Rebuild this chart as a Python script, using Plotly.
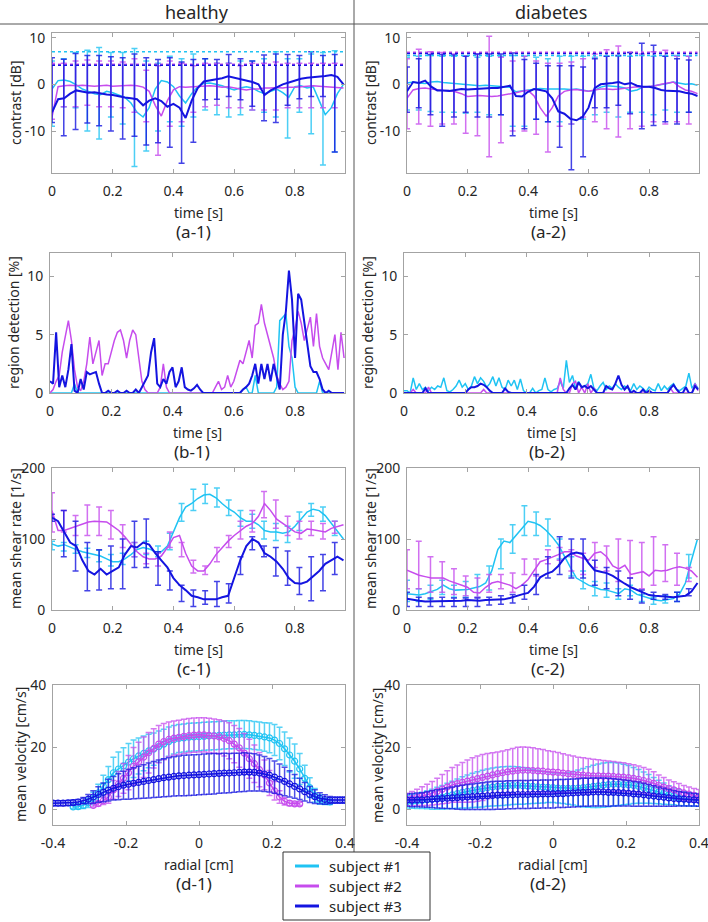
import numpy as np
import plotly.graph_objects as go

W, H = 708, 922
FONT = "Noto Sans"
CYAN = "#1fc3f3"
MAGENTA = "#c64ced"
BLUE = "#1414e0"
SUBJECTS = ["subject #1", "subject #2", "subject #3"]

# sampling grids (s / cm)
t_line = np.round(np.arange(49) * 0.02, 2)
t_det = np.round(np.arange(97) * 0.01, 2)
t_bar = np.round(np.arange(25) * 0.0388, 4)
r_prof = np.linspace(-0.4, 0.4, 59)

# ---- (a) contrast [dB] ----
a1_cyan = [-1, 0.8, 0.9, 0.6, -0.1, -1.0, -1.5, -2.0, -2.2, -1.5,
           -1.8, -2.3, -2.8, -4.0, -6.0, -7.0, -5.0, -1.0, 0.8, 0.5,
           -0.5, -2.5, -4.0, -2.0, -0.5, 0.2, 0.3, 0.0, -0.3, -0.8,
           -1.2, -0.8, -0.5, -0.8, -1.5, -2.0, -1.5, -1.0, -1.8, -2.8,
           -0.5, -0.3, -0.8, -0.5, -3.5, -6.5, -5.0, -2.0, 0.0]
a1_magenta = [-7, -0.5, -0.3, -0.2, -0.3, -0.2, -0.3, -0.4, -0.3, -0.2,
              -0.4, -0.3, -0.2, -0.2, -0.3, -0.6, -1.5, -4.5, -6.8, -3.5,
              -1.2, -0.5, -0.6, -0.5, -0.4, -0.3, -0.3, -0.4, -0.6, -0.5,
              -0.8, -1.0, -1.2, -1.0, -1.0, -0.8, -0.8, -0.7, -0.8, -0.6,
              -0.6, -0.5, -0.4, -0.3, -0.4, -0.5, -0.6, -0.7, -0.8]
a1_blue = [-6, -3.2, -3.0, -2.0, -1.3, -1.5, -1.8, -1.7, -2.0, -2.2,
           -2.3, -2.6, -2.8, -3.0, -3.2, -4.5, -3.5, -3.0, -3.6, -4.8,
           -4.2, -5.0, -7.2, -3.5, -0.8, 0.6, 0.8, 1.0, 1.3, 1.7,
           1.4, 1.2, 0.8, 0.5, 0.0, -2.3, -1.3, -0.6, 0.0, 0.4,
           0.8, 1.2, 1.4, 1.5, 1.6, 1.8, 2.0, 1.6, 0.0]
a1_thr = [7.0, 4.3, 4.1]
a1_cyan_hi = [5.0, 5.5, 6.8, 7.3, 7.9, 6.8, 6.8, 7.7, 5.0, 4.5, 6.0, 5.5, 6.5,
              5.5, 4.5, 4.5, 5.0, 5.0, 5.5, 7.0, 5.5, 5.5, 6.5, 6.8, 7.2]
a1_cyan_lo = [-9.0, -4.8, -5.0, -10.0, -11.7, -7.0, -8.5, -17.6, -14.3, -10.0, -8.0, -9.0, -7.0,
              -5.5, -6.5, -7.0, -6.5, -5.5, -6.0, -7.0, -11.5, -6.0, -10.6, -17.3, -14.5]
a1_magenta_hi = [4.5, 4.5, 5.0, 5.2, 5.0, 5.0, 4.8, 5.5, 3.0, 4.0, 5.0, 4.5, 4.0,
                 4.5, 4.5, 4.5, 4.0, 4.5, 4.5, 4.8, 4.5, 4.5, 4.5, 4.5, 4.5]
a1_magenta_lo = [-7.5, -4.8, -4.8, -4.5, -4.8, -4.8, -5.0, -6.0, -8.0, -15.2, -9.0, -8.0, -6.0,
                 -4.8, -4.5, -5.0, -5.0, -5.5, -5.5, -5.5, -5.0, -5.0, -5.0, -5.0, -5.0]
a1_blue_hi = [5.7, 5.4, 6.6, 6.2, 6.2, 5.9, 5.7, 6.5, 5.7, 5.3, 5.7, 4.8, 5.3,
              5.5, 5.3, 6.4, 5.5, 5.0, 6.3, 6.5, 6.4, 6.2, 7.0, 6.2, 6.4]
a1_blue_lo = [-8.2, -11.0, -9.7, -8.3, -8.9, -10.0, -11.7, -11.1, -13.0, -12.5, -13.5, -16.9, -12.4,
              -3.3, -3.2, -2.6, -3.3, -4.7, -7.8, -8.2, -4.5, -3.1, -2.6, -2.6, -14.5]

a2_cyan = [0.3, 0.5, 0.3, 0.2, 0.5, 0.6, 0.4, 0.3, 0.2, 0.0,
           -0.1, -0.2, -0.3, -0.2, -0.3, -0.3, -0.4, -0.6, -1.6, -1.4,
           -1.2, -1.0, -0.9, -1.0, -1.0, -0.9, -1.0, -1.1, -1.0, -1.2,
           -1.5, -1.3, -0.6, -0.3, -0.4, -0.5, -0.8, -1.5, -1.2, -0.6,
           -0.5, -0.3, 0.0, 0.2, 0.5, 0.2, 0.0, 0.1, -0.2]
a2_magenta = [-3.0, -1.2, -0.9, -0.8, -1.0, -1.2, -1.3, -1.4, -1.6, -2.0,
              -2.6, -2.5, -2.4, -2.5, -2.6, -2.5, -2.3, -2.0, -1.8, -1.5,
              -1.3, -2.5, -5.0, -6.8, -5.0, -2.5, -1.5, -1.2, -1.1, -1.3,
              -1.5, -1.2, -1.0, -1.0, -1.1, -1.0, -0.8, -0.6, -0.5, -0.6,
              -0.5, -0.3, 0.0, 0.3, 0.5, -0.5, -1.2, -1.5, -2.0]
a2_blue = [-1.5, 0.5, 0.3, 0.8, -0.5, -1.3, -1.3, -1.4, -1.2, -1.0,
           -1.1, -1.0, -1.0, -0.9, -0.8, -0.8, -0.5, -0.3, -2.5, -2.6,
           -1.6, -1.0, -1.2, -1.5, -3.0, -5.8, -6.3, -7.4, -7.7, -7.0,
           -5.0, -0.8, 0.0, 0.1, 0.3, 0.5, 0.0, 0.3, -0.3, -0.5,
           -0.5, -0.8, -1.2, -1.4, -1.5, -1.5, -1.8, -2.0, -2.5]
a2_thr = [6.2, 6.9, 6.6]
a2_cyan_hi = [5.8, 6.0, 6.2, 6.0, 6.0, 6.0, 5.8, 6.0, 6.0, 6.2, 6.0, 5.8, 5.5,
              6.0, 6.0, 6.0, 5.8, 6.0, 6.0, 6.0, 6.2, 6.0, 6.0, 6.2, 6.0]
a2_cyan_lo = [-5.5, -5.5, -5.8, -6.0, -6.0, -6.2, -6.0, -6.5, -6.5, -9.0, -9.0, -7.5, -8.0,
              -8.0, -8.5, -7.5, -6.5, -6.0, -7.0, -6.0, -6.0, -6.5, -5.5, -6.0, -6.0]
a2_magenta_hi = [5.5, 7.5, 7.0, 6.8, 6.5, 6.0, 6.5, 10.3, 5.8, 5.0, 6.0, 5.0, 4.5,
                 4.5, 4.8, 5.5, 6.5, 7.4, 8.2, 6.8, 6.5, 7.0, 7.3, 6.0, 6.0]
a2_magenta_lo = [-9.5, -8.5, -9.0, -8.5, -8.5, -10.5, -11.0, -15.5, -12.5, -10.0, -10.0, -10.7, -14.5,
                 -9.0, -8.5, -7.0, -8.0, -9.5, -11.3, -9.5, -9.0, -8.0, -8.5, -8.0, -8.5]
a2_blue_hi = [3.7, 5.5, 6.4, 6.4, 6.3, 6.0, 6.5, 6.5, 6.5, 6.7, 5.3, 4.5, 4.0,
              4.0, 4.0, 3.7, 5.5, 6.0, 6.2, 6.8, 8.8, 8.4, 6.0, 5.5, 5.2]
a2_blue_lo = [-6.0, -5.0, -6.5, -9.0, -7.0, -6.0, -7.0, -7.0, -6.5, -11.0, -9.5, -7.5, -8.0,
              -13.5, -18.3, -15.5, -5.0, -5.0, -4.5, -6.3, -9.5, -8.8, -8.0, -8.5, -6.0]

# ---- (b) region detection [%] ----
b1_cyan = [0, 0, 0, 0, 0, 0, 0, 0, 0.8, 0,
           0, 0, 0, 0, 0, 0, 0, 0, 0, 0,
           0, 0, 0, 0, 0, 0, 0, 0, 0, 0,
           0, 0, 0, 0, 0, 0, 0, 0, 0, 0,
           0, 0, 0, 0, 0, 0, 0, 0, 0, 0,
           0, 0, 0, 0, 0, 0, 0, 0, 0, 0,
           0, 0, 0, 0.3, 0.5, 0, 0, 1.5, 0, 0,
           0, 0, 0, 0, 0.5, 6.2, 6.5, 6.8, 4.0, 3.0,
           0.5, 0, 0, 0, 0, 0, 0, 0, 1.0, 0,
           0, 0, 0, 0, 0, 0, 0]
b1_magenta = [0, 0.3, 1.0, 1.5, 3.5, 5.0, 6.2, 4.5, 2.0, 0.5,
              0.2, 1.0, 2.5, 4.8, 2.5, 3.5, 4.5, 1.5, 2.5, 2.5,
              3.5, 4.5, 5.2, 5.4, 4.5, 3.0, 4.5, 5.4, 5.0, 3.0,
              1.0, 0.3, 0, 0, 0, 0, 0.5, 2.5, 0.5, 0,
              0, 0, 0, 0, 0, 0, 0, 0, 0, 0,
              0, 0, 0, 0, 0.5, 1.0, 0.3, 0.5, 1.5, 0.5,
              1.0, 2.0, 2.8, 2.5, 3.5, 4.5, 3.0, 5.8, 6.0, 7.6,
              6.0, 5.0, 4.0, 3.0, 1.5, 0.8, 0.3, 0.5, 1.0, 4.5,
              5.5, 7.0, 6.0, 4.5, 5.5, 6.5, 4.0, 6.8, 4.0, 3.0,
              2.5, 2.0, 3.5, 5.0, 2.0, 5.2, 3.0]
b1_blue = [1.0, 0.8, 5.2, 0.5, 1.5, 0.5, 2.0, 4.2, 0.2, 0,
           1.2, 0.3, 1.8, 1.6, 1.7, 1.8, 0.8, 0, 0, 0.2,
           0, 0, 0.2, 0, 0, 0.2, 0, 0, 0.3, 0,
           0.5, 1.0, 1.5, 3.5, 4.7, 0.8, 0.5, 1.2, 0.8, 1.8,
           2.2, 0.5, 1.0, 2.2, 0.5, 0.3, 0.2, 0.4, 0.7, 0.3,
           0, 0, 0, 0, 0, 0, 0, 0, 0, 0,
           0, 0, 0, 0.3, 0.5, 0.8, 1.5, 2.5, 0.8, 2.5,
           1.2, 2.5, 1.0, 2.5, 1.5, 0.3, 5.0, 7.0, 10.5, 8.0,
           3.0, 8.5, 8.0, 6.0, 4.0, 2.3, 1.8, 1.8, 1.2, 0.3,
           0, 0.2, 0, 0, 0, 0, 0]

b2_cyan = [0.2, 0.2, 0.0, 1.3, 0.3, 0.8, 0.3, 0.5, 0.2, 0.5,
           0.3, 0.6, 0.5, 1.3, 0.2, 0.1, 0.3, 0.6, 1.1, 0.5,
           0.8, 0.3, 0.6, 1.4, 0.8, 1.3, 1.0, 0.5, 0.8, 1.4,
           0.6, 1.3, 0.5, 0.3, 1.1, 0.6, 1.1, 0.3, 1.2, 0.2,
           0.0, 0.0, 0.4, 0.0, 0.2, 0.3, 1.3, 0.3, 0.1, 0.3,
           0.4, 1.0, 0.4, 2.8, 0.9, 1.5, 0.4, 1.0, 0.5, 0.6,
           0.8, 1.6, 0.4, 0.2, 0.6, 0.9, 0.3, 0.6, 0.4, 0.8,
           0.5, 0.3, 0.6, 0.4, 0.2, 0.8, 0.3, 0.6, 0.4, 0.1,
           0.5, 0.3, 0.2, 0.8, 0.2, 0.6, 0.3, 0.6, 0.8, 0.3,
           0.2, 0.4, 0.6, 1.7, 0.4, 0.8, 0.4]
b2_magenta = [0, 0, 0, 0.3, 0, 0, 0, 0, 0.5, 0,
              0, 0, 0, 0, 0, 0, 0, 0, 0, 0,
              0, 0, 0, 0, 0, 0, 0.3, 0, 0, 0,
              0, 0, 0, 0, 0, 0, 0, 0, 0, 0,
              0, 0, 0, 0, 0, 0, 0, 0, 0, 0,
              0, 1.3, 0.3, 0, 0, 0.8, 1.0, 0, 0.5, 0,
              0.8, 0, 0.4, 0, 0, 0, 0, 0, 0, 0,
              0, 0, 0, 0, 0, 0, 0, 0, 0, 0,
              0, 0, 0, 0, 0, 0, 0, 0.4, 0, 0,
              0, 0, 0, 0, 0, 0.8, 0.2]
b2_blue = [0, 0, 0, 0, 0, 0, 0, 0.4, 0, 0,
           0, 0, 0, 0, 0, 0, 0, 0, 0, 0,
           0, 0.3, 0.5, 0.5, 0.6, 0.8, 0.7, 0.5, 0.2, 0,
           0, 0, 0, 0.4, 0.1, 0, 0, 0, 0, 0,
           0, 0, 0, 0, 0, 0, 0, 0, 0, 0,
           0, 0, 0, 0, 0.4, 0.7, 0.3, 0.9, 0.5, 0.6,
           0.4, 0.6, 0.3, 0, 0, 0, 0.6, 0.4, 0.3, 0.8,
           1.5, 0.7, 0.3, 0.6, 0, 0.2, 0, 0, 0.3, 0,
           0.2, 0, 0, 0, 0, 0, 0, 0.4, 0.7, 0.3,
           0, 0, 0.5, 0, 0, 0.6, 0.3]

# ---- (c) mean shear rate [1/s] ----
c1_cyan = [93, 90, 92, 88, 85, 82, 80, 78, 76, 72,
           68, 68, 72, 78, 85, 88, 86, 82, 82, 90,
           110, 130, 145, 150, 157, 162, 163, 158, 150, 143,
           138, 130, 125, 125, 120, 112, 110, 110, 108, 110,
           118, 128, 138, 142, 140, 133, 122, 110, 100]
c1_magenta = [140, 112, 112, 115, 118, 122, 124, 125, 125, 124,
              118, 112, 103, 92, 82, 75, 72, 72, 76, 88,
              102, 105, 80, 62, 55, 55, 65, 78, 88, 97,
              105, 112, 118, 122, 132, 150, 140, 128, 122, 115,
              110, 108, 114, 113, 112, 110, 115, 117, 120]
c1_blue = [130, 125, 110, 95, 90, 70, 55, 50, 58, 50,
           55, 60, 78, 90, 88, 95, 92, 80, 70, 60,
           45, 35, 28, 20, 18, 15, 15, 15, 18, 20,
           45, 70, 90, 100, 95, 80, 75, 68, 58, 45,
           38, 37, 40, 48, 55, 65, 70, 75, 70]
c1_cyan_hi = [97, 95, 92, 87, 84, 78, 80, 95, 97, 90, 108, 150, 170,
              177, 172, 155, 140, 135, 125, 122, 118, 138, 150, 145, 125]
c1_cyan_lo = [85, 83, 80, 74, 68, 62, 64, 75, 78, 75, 85, 125, 140,
              150, 145, 133, 118, 115, 100, 98, 95, 112, 132, 125, 105]
c1_magenta_hi = [165, 140, 133, 148, 145, 140, 120, 95, 80, 80, 110, 95, 70,
                 62, 88, 105, 125, 140, 167, 155, 132, 125, 125, 122, 125]
c1_magenta_lo = [110, 110, 105, 105, 105, 100, 88, 75, 65, 62, 88, 75, 52,
                 50, 68, 88, 100, 110, 130, 115, 105, 100, 105, 100, 108]
c1_blue_hi = [135, 140, 125, 95, 85, 90, 100, 125, 128, 82, 55, 35, 28,
              27, 40, 37, 75, 103, 90, 88, 83, 60, 75, 78, 95]
c1_blue_lo = [125, 75, 55, 27, 28, 30, 30, 60, 60, 35, 28, 12, 5,
              8, 5, 10, 50, 85, 75, 48, 35, 22, 13, 27, 50]

c2_cyan = [23, 22, 21, 23, 26, 29, 35, 30, 28, 28,
           29, 31, 33, 38, 55, 85, 97, 95, 105, 115,
           125, 123, 119, 112, 103, 92, 75, 60, 45, 40,
           35, 32, 29, 28, 25, 23, 30, 28, 22, 19,
           16, 14, 13, 15, 16, 22, 38, 70, 100]
c2_magenta = [56, 52, 49, 47, 45, 45, 45, 41, 38, 36,
              32, 25, 24, 32, 38, 40, 38, 35, 30, 35,
              43, 55, 68, 71, 74, 78, 82, 82, 76, 73,
              70, 80, 82, 75, 62, 58, 63, 50, 52, 54,
              48, 56, 55, 56, 59, 61, 59, 55, 46]
c2_blue = [16, 14, 13, 12, 12, 13, 13, 12, 13, 13,
           14, 13, 13, 14, 14, 14, 15, 17, 20, 22,
           24, 33, 46, 51, 54, 62, 73, 79, 81, 79,
           66, 56, 54, 52, 48, 42, 37, 32, 28, 24,
           21, 20, 19, 18, 18, 19, 20, 26, 38]
c2_cyan_hi = [42, 30, 35, 42, 35, 40, 50, 62, 100, 120, 147, 138, 128,
              100, 75, 55, 40, 38, 30, 35, 22, 18, 20, 25, 78]
c2_cyan_lo = [12, 12, 15, 22, 18, 18, 18, 28, 58, 80, 105, 105, 90,
              72, 48, 30, 20, 18, 15, 20, 12, 8, 10, 12, 45]
c2_magenta_hi = [85, 97, 75, 68, 58, 48, 45, 50, 50, 52, 72, 72, 85,
                 88, 85, 80, 95, 90, 100, 98, 95, 103, 92, 80, 60]
c2_magenta_lo = [30, 30, 25, 25, 22, 20, 18, 25, 30, 25, 50, 48, 65,
                 70, 55, 50, 60, 55, 40, 45, 30, 35, 40, 35, 40]
c2_blue_hi = [25, 18, 17, 18, 17, 17, 17, 18, 20, 22, 35, 50, 75,
              103, 100, 100, 70, 60, 55, 45, 28, 25, 22, 25, 30]
c2_blue_lo = [5, 5, 5, 5, 5, 5, 5, 7, 8, 10, 15, 22, 45,
              50, 45, 45, 35, 30, 20, 15, 10, 15, 15, 12, 20]

# ---- (d) mean velocity [cm/s] vs radial position ----
N = None
d1_cyan = [N, N, N, N, 0.8, 0.9, 1.3, 2.1, 3.5, 5.3,
           7.5, 9.6, 11.8, 13.0, 14.0, 15.2, 16.3, 17.2, 18.0, 18.8,
           19.4, 20.2, 21.0, 21.8, 22.4, 22.8, 23.0, 23.2, 23.3, 23.4,
           23.5, 23.6, 23.7, 23.8, 23.9, 24.0, 24.0, 24.1, 24.1, 24.0,
           23.8, 23.6, 23.3, 23.0, 22.3, 21.2, 19.5, 17.5, 15.5, 13.0,
           10.0, 7.0, 4.5, 3.2, 2.6, 2.4, N, N, N]
d1_cyan_sd = [N, N, N, N, 0.5, 0.7, 1.0, 1.5, 2.0, 2.8,
              3.5, 4.2, 5.0, 5.5, 5.8, 6.0, 6.0, 5.8, 5.6, 5.4,
              5.2, 5.0, 4.8, 4.7, 4.6, 4.5, 4.5, 4.5, 4.5, 4.5,
              4.5, 4.5, 4.5, 4.5, 4.5, 4.5, 4.5, 4.5, 4.5, 4.5,
              4.5, 4.5, 4.6, 4.8, 5.0, 5.2, 5.4, 5.5, 5.5, 5.0,
              4.2, 3.2, 2.2, 1.5, 1.0, 0.8, N, N, N]
d1_magenta = [N, N, N, N, N, N, N, N, 1.3, 1.9,
              2.8, 4.0, 6.3, 8.2, 10.0, 11.8, 13.9, 15.3, 16.8, 18.2,
              19.6, 21.0, 21.8, 22.5, 22.9, 23.2, 23.5, 23.7, 23.9, 24.0,
              24.0, 23.8, 23.6, 23.3, 22.8, 22.1, 21.0, 19.8, 18.1, 16.3,
              14.7, 12.8, 11.1, 8.5, 6.0, 4.0, 2.6, 2.0, 1.8, 1.8,
              N, N, N, N, N, N, N, N, N]
d1_magenta_sd = [N, N, N, N, N, N, N, N, 0.5, 0.8,
                 1.2, 2.0, 3.0, 4.0, 4.8, 5.5, 6.0, 6.3, 6.5, 6.5,
                 6.3, 6.0, 5.8, 5.6, 5.5, 5.5, 5.5, 5.5, 5.5, 5.5,
                 5.5, 5.5, 5.5, 5.5, 5.6, 5.8, 6.0, 6.2, 6.3, 6.3,
                 6.0, 5.5, 4.8, 4.0, 3.0, 2.0, 1.2, 0.8, 0.5, 0.5,
                 N, N, N, N, N, N, N, N, N]
d1_blue = [2.0, 2.0, 2.0, 2.1, 2.2, 2.4, 2.8, 3.3, 4.0, 4.8,
           5.5, 6.2, 6.8, 7.3, 7.8, 8.1, 8.4, 8.7, 9.0, 9.3,
           9.6, 9.9, 10.2, 10.4, 10.6, 10.8, 10.9, 11.0, 11.1, 11.2,
           11.3, 11.4, 11.5, 11.6, 11.7, 11.7, 11.8, 11.9, 12.0, 12.0,
           11.9, 11.7, 11.4, 11.0, 10.4, 9.7, 9.0, 8.2, 7.4, 6.6,
           5.7, 4.8, 4.1, 3.6, 3.2, 3.0, 3.0, 3.0, 3.0]
d1_blue_sd = [0.8, 0.8, 0.8, 0.8, 0.8, 0.8, 1.0, 1.5, 2.0, 2.5,
              3.0, 3.5, 3.8, 4.2, 4.5, 4.8, 5.0, 5.2, 5.4, 5.6,
              5.8, 6.0, 6.1, 6.2, 6.3, 6.4, 6.5, 6.5, 6.5, 6.5,
              6.5, 6.5, 6.5, 6.4, 6.4, 6.3, 6.3, 6.2, 6.2, 6.1,
              6.0, 5.8, 5.6, 5.4, 5.2, 4.9, 4.6, 4.2, 3.8, 3.4,
              3.0, 2.6, 2.2, 1.8, 1.5, 1.2, 1.0, 1.0, 1.0]

d2_cyan = [2.5, 2.6, 2.7, 2.9, 3.1, 3.3, 3.6, 3.9, 4.3, 4.7,
           5.1, 5.5, 5.8, 6.1, 6.4, 6.7, 7.0, 7.2, 7.4, 7.5,
           7.6, 7.7, 7.7, 7.6, 7.5, 7.4, 7.3, 7.2, 7.1, 7.0,
           6.9, 6.8, 6.8, 6.8, 6.9, 7.0, 7.2, 7.4, 7.6, 7.8,
           8.0, 8.1, 8.1, 8.0, 7.9, 7.7, 7.4, 7.0, 6.6, 6.1,
           5.6, 5.1, 4.6, 4.2, 3.8, 3.5, 3.3, 3.1, 3.0]
d2_cyan_sd = [2.0, 2.2, 2.4, 2.6, 2.9, 3.2, 3.5, 3.8, 4.1, 4.4,
              4.7, 5.0, 5.3, 5.5, 5.7, 5.9, 6.0, 6.1, 6.2, 6.2,
              6.2, 6.1, 6.0, 5.9, 5.7, 5.5, 5.3, 5.1, 4.9, 4.8,
              4.8, 4.9, 5.1, 5.4, 5.8, 6.2, 6.5, 6.8, 7.0, 7.1,
              7.1, 7.0, 6.8, 6.5, 6.2, 5.8, 5.4, 5.0, 4.6, 4.2,
              3.8, 3.4, 3.0, 2.7, 2.5, 2.3, 2.2, 2.1, 2.0]
d2_magenta = [3.2, 3.5, 3.9, 4.3, 4.7, 5.2, 5.8, 6.5, 7.2, 7.9,
              8.3, 8.7, 9.1, 9.5, 9.9, 10.3, 10.7, 11.1, 11.5, 11.8,
              12.1, 12.3, 12.5, 12.6, 12.6, 12.5, 12.4, 12.3, 12.1, 12.0,
              11.9, 11.7, 11.5, 11.3, 11.1, 11.0, 10.9, 10.8, 10.8, 10.7,
              10.7, 10.6, 10.5, 10.4, 10.2, 10.0, 9.7, 9.3, 8.9, 8.4,
              7.7, 7.2, 6.7, 6.3, 5.8, 5.3, 4.9, 4.5, 4.3]
d2_magenta_sd = [2.0, 2.3, 2.6, 3.0, 3.4, 3.8, 4.2, 4.7, 5.2, 5.6,
                 6.0, 6.4, 6.8, 7.1, 7.3, 7.4, 7.3, 7.1, 7.0, 7.0,
                 7.1, 7.3, 7.5, 7.5, 7.4, 7.3, 7.1, 7.0, 6.8, 6.6,
                 6.4, 6.2, 6.0, 5.9, 5.7, 5.6, 5.5, 5.3, 5.2, 5.0,
                 4.9, 4.8, 4.7, 4.6, 4.5, 4.4, 4.3, 4.2, 4.0, 3.7,
                 3.4, 3.1, 2.8, 2.6, 2.5, 2.4, 2.3, 2.2, 2.1]
d2_blue = [3.0, 3.0, 3.1, 3.1, 3.2, 3.3, 3.4, 3.5, 3.6, 3.7,
           3.8, 3.9, 4.0, 4.1, 4.2, 4.3, 4.4, 4.5, 4.6, 4.6,
           4.7, 4.7, 4.8, 4.8, 4.8, 4.9, 4.9, 5.0, 5.0, 5.0,
           5.1, 5.1, 5.2, 5.3, 5.4, 5.5, 5.5, 5.6, 5.6, 5.6,
           5.5, 5.5, 5.4, 5.3, 5.2, 5.0, 4.9, 4.7, 4.5, 4.3,
           4.1, 3.9, 3.7, 3.5, 3.4, 3.3, 3.2, 3.1, 3.0]
d2_blue_sd = [2.0, 2.1, 2.2, 2.3, 2.5, 2.7, 2.9, 3.1, 3.3, 3.5,
              3.7, 3.9, 4.0, 4.1, 4.2, 4.3, 4.4, 4.5, 4.5, 4.5,
              4.5, 4.5, 4.5, 4.5, 4.5, 4.5, 4.5, 4.5, 4.5, 4.5,
              4.5, 4.5, 4.5, 4.5, 4.5, 4.5, 4.5, 4.5, 4.5, 4.5,
              4.5, 4.4, 4.3, 4.2, 4.1, 4.0, 3.9, 3.7, 3.5, 3.3,
              3.1, 2.9, 2.7, 2.5, 2.3, 2.2, 2.1, 2.0, 2.0]


def rgba(hex_color, a):
    h = hex_color.lstrip("#")
    return "rgba(%d,%d,%d,%.2f)" % (int(h[0:2], 16), int(h[2:4], 16), int(h[4:6], 16), a)


def axid(n):
    return ("x", "y") if n == 1 else (f"x{n}", f"y{n}")


fig = go.Figure()


def add_line(n, x, y, color, width=1.5, dash=None):
    xa, ya = axid(n)
    fig.add_trace(go.Scatter(
        x=x, y=y, mode="lines", xaxis=xa, yaxis=ya,
        line=dict(color=color, width=width, dash=dash),
        showlegend=False, hoverinfo="skip",
    ))


def add_bars(n, x, hi, lo, color, alpha=0.8):
    xa, ya = axid(n)
    hi, lo = np.array(hi, float), np.array(lo, float)
    fig.add_trace(go.Scatter(
        x=x, y=(hi + lo) / 2, mode="markers", xaxis=xa, yaxis=ya,
        marker=dict(size=1, color="rgba(0,0,0,0)"),
        error_y=dict(type="data", array=(hi - lo) / 2, color=rgba(color, alpha),
                     thickness=1.5, width=3),
        showlegend=False, hoverinfo="skip",
    ))


def add_profile(n, x, y, sd, color, alpha=0.75):
    xa, ya = axid(n)
    fig.add_trace(go.Scatter(
        x=x, y=y, mode="lines+markers", xaxis=xa, yaxis=ya,
        line=dict(color=color, width=1.5),
        marker=dict(symbol="circle-open", size=6, color=color, line=dict(width=1.2)),
        error_y=dict(type="data", array=sd, color=rgba(color, alpha), thickness=1.5, width=3),
        showlegend=False, hoverinfo="skip",
    ))


colors = [CYAN, MAGENTA, BLUE]

# (a) contrast
for n, lines, his, los, thr in [
    (1, [a1_cyan, a1_magenta, a1_blue], [a1_cyan_hi, a1_magenta_hi, a1_blue_hi],
     [a1_cyan_lo, a1_magenta_lo, a1_blue_lo], a1_thr),
    (2, [a2_cyan, a2_magenta, a2_blue], [a2_cyan_hi, a2_magenta_hi, a2_blue_hi],
     [a2_cyan_lo, a2_magenta_lo, a2_blue_lo], a2_thr),
]:
    for k in range(3):
        add_line(n, t_line, lines[k], colors[k], width=2 if k == 2 else 1.5)
        add_bars(n, t_bar, his[k], los[k], colors[k])
    for k in range(3):
        add_line(n, [t_line[0], t_line[-1]], [thr[k], thr[k]], colors[k], width=1.5, dash="dot")

# (b) region detection
for n, lines in [(3, [b1_cyan, b1_magenta, b1_blue]), (4, [b2_cyan, b2_magenta, b2_blue])]:
    for k in range(3):
        add_line(n, t_det, lines[k], colors[k], width=2 if k == 2 else 1.5)

# (c) shear rate
for n, lines, his, los in [
    (5, [c1_cyan, c1_magenta, c1_blue], [c1_cyan_hi, c1_magenta_hi, c1_blue_hi],
     [c1_cyan_lo, c1_magenta_lo, c1_blue_lo]),
    (6, [c2_cyan, c2_magenta, c2_blue], [c2_cyan_hi, c2_magenta_hi, c2_blue_hi],
     [c2_cyan_lo, c2_magenta_lo, c2_blue_lo]),
]:
    for k in range(3):
        add_line(n, t_line, lines[k], colors[k], width=2 if k == 2 else 1.5)
        add_bars(n, t_bar, his[k], los[k], colors[k])

# (d) velocity profiles
for n, ys, sds in [
    (7, [d1_cyan, d1_magenta, d1_blue], [d1_cyan_sd, d1_magenta_sd, d1_blue_sd]),
    (8, [d2_cyan, d2_magenta, d2_blue], [d2_cyan_sd, d2_magenta_sd, d2_blue_sd]),
]:
    for k in range(3):
        add_profile(n, r_prof, ys[k], sds[k], colors[k])

# panel geometry in pixels
t_ticks = ([0, 0.2, 0.4, 0.6, 0.8], ["0", "0.2", "0.4", "0.6", "0.8"])
r_ticks = ([-0.4, -0.2, 0, 0.2, 0.4], ["-0.4", "-0.2", "0", "0.2", "0.4"])
panels = [
    (1, (52, 345), (33, 173), [0, 0.965], [-19, 11], ([-10, 0, 10], ["-10", "0", "10"]),
     "contrast [dB]", "time [s]", "(a-1)", t_ticks),
    (2, (407, 699), (33, 173), [0, 0.965], [-19, 11], ([-10, 0, 10], ["-10", "0", "10"]),
     "contrast [dB]", "time [s]", "(a-2)", t_ticks),
    (3, (50, 345), (253, 393), [0, 0.963], [0, 12], ([0, 5, 10], ["0", "5", "10"]),
     "region detection [%]", "time [s]", "(b-1)", t_ticks),
    (4, (404, 699), (253, 393), [0, 0.963], [0, 12], ([0, 5, 10], ["0", "5", "10"]),
     "region detection [%]", "time [s]", "(b-2)", t_ticks),
    (5, (52, 345), (468, 610), [0, 0.965], [0, 200], ([0, 100, 200], ["0", "100", "200"]),
     "mean shear rate [1/s]", "time [s]", "(c-1)", t_ticks),
    (6, (407, 699), (468, 610), [0, 0.965], [0, 200], ([0, 100, 200], ["0", "100", "200"]),
     "mean shear rate [1/s]", "time [s]", "(c-2)", t_ticks),
    (7, (53, 345), (685, 825), [-0.4, 0.4], [-5, 40], ([0, 20, 40], ["0", "20", "40"]),
     "mean velocity [cm/s]", "radial [cm]", "(d-1)", r_ticks),
    (8, (407, 699), (685, 825), [-0.4, 0.4], [-5, 40], ([0, 20, 40], ["0", "20", "40"]),
     "mean velocity [cm/s]", "radial [cm]", "(d-2)", r_ticks),
]

AX_COLOR = "#a3a3a3"
TXT = "#262626"
axis_style = dict(showline=True, linecolor=AX_COLOR, linewidth=1, mirror="ticks",
                  ticks="inside", ticklen=4, tickcolor=AX_COLOR, showgrid=False,
                  zeroline=False, automargin=False, ticklabeloverflow="allow",
                  tickfont=dict(family=FONT, size=14, color=TXT))

layout_axes = {}
annotations = []


def px_x(x):
    return x / W


def px_y(y):
    return 1 - y / H


for n, (x0, x1), (y0, y1), xr, yr, yt, ylab, xlab, tag, xt in panels:
    suffix = "" if n == 1 else str(n)
    xa, ya = axid(n)
    layout_axes["xaxis" + suffix] = dict(
        axis_style, domain=[px_x(x0), px_x(x1)], anchor=ya, range=xr,
        tickvals=xt[0], ticktext=xt[1], ticklabelstandoff=5)
    layout_axes["yaxis" + suffix] = dict(
        axis_style, domain=[px_y(y1), px_y(y0)], anchor=xa, range=yr,
        tickvals=yt[0], ticktext=yt[1], ticklabelstandoff=3)
    cx = (x0 + x1) / 2
    ylab_x = x0 - 37 if n != 7 else x0 - 33
    if n == 8:
        ylab_x = x0 - 30
    annotations.append(dict(text=ylab, x=px_x(ylab_x), y=px_y((y0 + y1) / 2), textangle=-90,
                            font=dict(family=FONT, size=14, color=TXT)))
    annotations.append(dict(text=xlab, x=px_x(cx), y=px_y(y1 + 39),
                            font=dict(family=FONT, size=14, color=TXT)))
    annotations.append(dict(text=tag, x=px_x(cx - 5), y=px_y(y1 + 58),
                            font=dict(family=FONT, size=17, color=TXT)))

annotations.append(dict(text="healthy", x=px_x(197), y=px_y(12),
                        font=dict(family=FONT, size=18, color=TXT)))
annotations.append(dict(text="diabetes", x=px_x(551), y=px_y(12),
                        font=dict(family=FONT, size=18, color=TXT)))

for a in annotations:
    a.update(xref="paper", yref="paper", xanchor="center", yanchor="middle", showarrow=False)

shapes = [
    dict(type="line", xref="paper", yref="paper", x0=0, x1=1, y0=px_y(24), y1=px_y(24),
         line=dict(color="#555555", width=1)),
    dict(type="line", xref="paper", yref="paper", x0=px_x(354), x1=px_x(354), y0=1, y1=px_y(852),
         line=dict(color="#555555", width=1)),
]

# legend box (drawn as a key under the two velocity panels)
LEG_BOX = (283, 852, 430, 920)
LEG_ROWS = [866, 886, 906]
shapes.append(dict(type="rect", xref="paper", yref="paper",
                   x0=px_x(LEG_BOX[0]), x1=px_x(LEG_BOX[2]),
                   y0=px_y(LEG_BOX[3]), y1=px_y(LEG_BOX[1]),
                   line=dict(color="#333333", width=1), fillcolor="white", layer="above"))
for k, yy in enumerate(LEG_ROWS):
    shapes.append(dict(type="line", xref="paper", yref="paper",
                       x0=px_x(295), x1=px_x(319), y0=px_y(yy), y1=px_y(yy),
                       line=dict(color=colors[k], width=3), layer="above"))
    annotations.append(dict(text=SUBJECTS[k], x=px_x(327), y=px_y(yy), xref="paper", yref="paper",
                            xanchor="left", yanchor="middle", showarrow=False,
                            font=dict(family=FONT, size=15, color=TXT)))

fig.update_layout(
    width=W, height=H,
    margin=dict(l=0, r=0, t=0, b=0, autoexpand=False),
    paper_bgcolor="white", plot_bgcolor="white",
    font=dict(family=FONT, color=TXT),
    annotations=annotations,
    shapes=shapes,
    showlegend=False,
    **layout_axes,
)

fig.write_html("out.html", config={"displayModeBar": False},
               post_script="document.body.style.margin='0';")
